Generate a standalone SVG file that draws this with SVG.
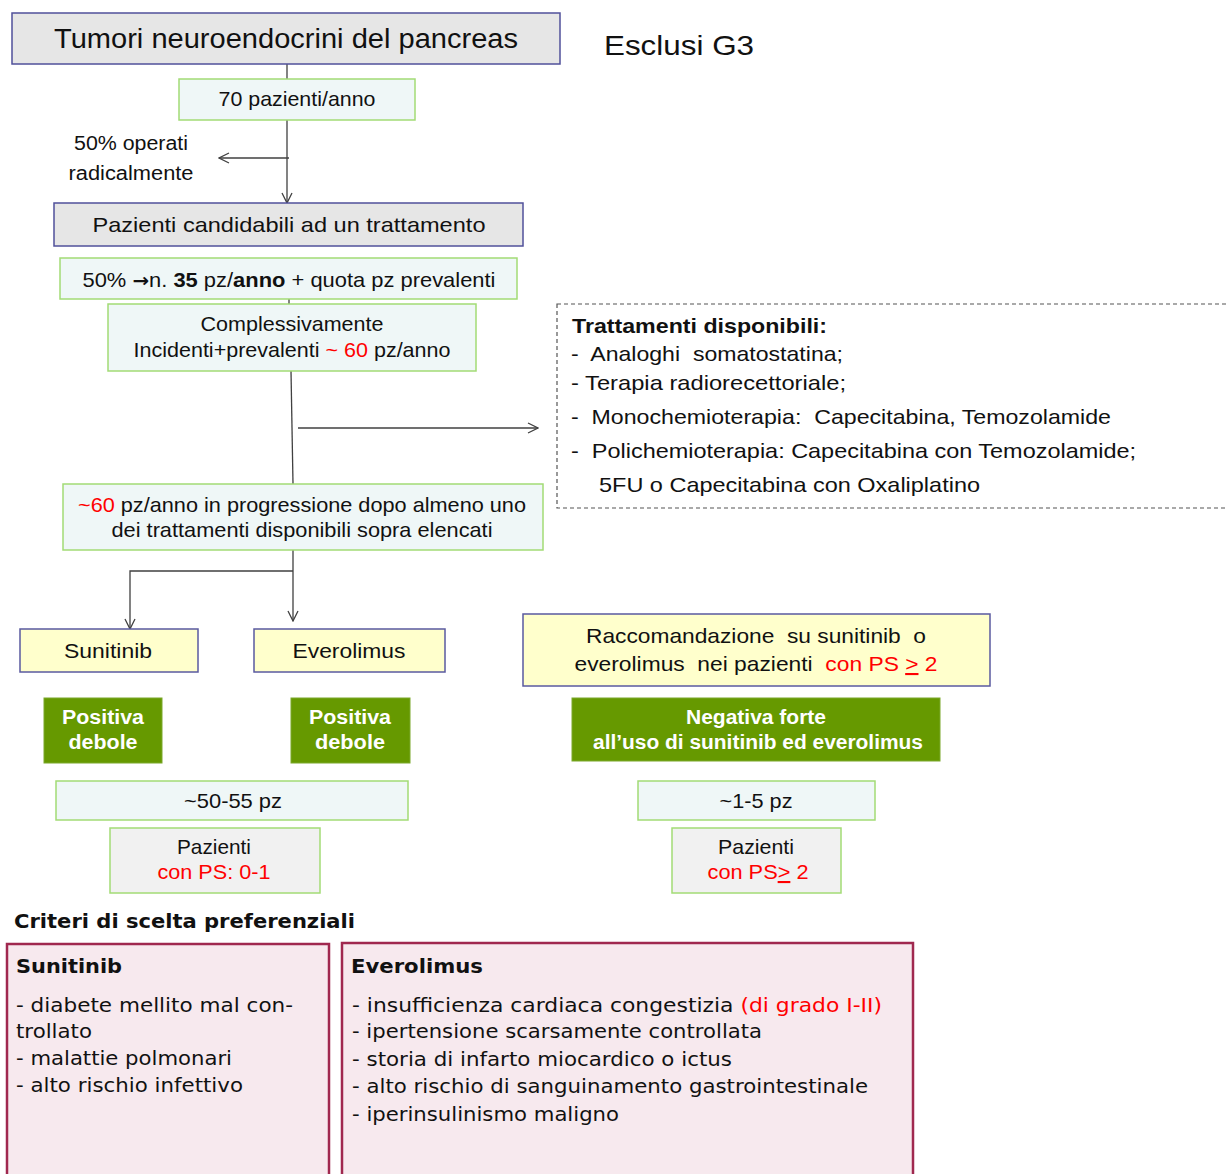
<svg xmlns="http://www.w3.org/2000/svg" width="1228" height="1174" viewBox="0 0 1228 1174">
<defs>
<marker id="arr" viewBox="0 0 12 12" refX="11" refY="6" markerWidth="12" markerHeight="12" markerUnits="userSpaceOnUse" orient="auto">
<path d="M1,1 L11,6 L1,11" fill="none" stroke="#404040" stroke-width="1.3"/>
</marker>
<style>
.gray{fill:#e6e6e6;stroke:#50509a;stroke-width:1.5}
.lg{fill:#eff7f7;stroke:#a3db75;stroke-width:1.5}
.yel{fill:#ffffcc;stroke:#5a5aa0;stroke-width:1.5}
.dg{fill:#669900;stroke:#7aa82a;stroke-width:1}
.pg{fill:#f1f1f1;stroke:#a3db75;stroke-width:1.5}
.pink{fill:#f7e9ee;stroke:#a0284f;stroke-width:2.5}
.dash{fill:#ffffff;stroke:#555;stroke-width:1.2;stroke-dasharray:4,3}
text{font-family:"Liberation Sans",Arial,sans-serif;fill:#111}
.c{text-anchor:middle}
.w{fill:#ffffff;font-weight:bold}
.v{font-family:"DejaVu Sans",Verdana,sans-serif}
.r{fill:#ff0000}
.ln{fill:none;stroke:#404040;stroke-width:1.3}
</style>
</defs>

<g id="connectors">
<line class="ln" x1="287" y1="64" x2="287" y2="79"/>
<line class="ln" x1="287" y1="120" x2="287" y2="203" marker-end="url(#arr)"/>
<line class="ln" x1="289" y1="158" x2="219" y2="158" marker-end="url(#arr)"/>
<line class="ln" x1="289" y1="299" x2="289" y2="304"/>
<line class="ln" x1="291" y1="371" x2="293" y2="484"/>
<line class="ln" x1="298" y1="428" x2="538" y2="428" marker-end="url(#arr)"/>
<line class="ln" x1="293" y1="550" x2="293" y2="621" marker-end="url(#arr)"/>
<polyline class="ln" points="293,571 130,571 130,629" marker-end="url(#arr)"/>
</g>

<g id="title">
<rect class="gray" x="12" y="13" width="548" height="51"/>
<text class="c" x="286" y="48" font-size="27" textLength="464" lengthAdjust="spacingAndGlyphs">Tumori neuroendocrini del pancreas</text>
</g>

<g id="esclusi">
<text x="604" y="55" font-size="28" textLength="150" lengthAdjust="spacingAndGlyphs">Esclusi G3</text>
</g>

<g id="n70">
<rect class="lg" x="179" y="79" width="236" height="41"/>
<text class="c" x="297" y="106" font-size="21" textLength="157" lengthAdjust="spacingAndGlyphs">70 pazienti/anno</text>
</g>

<g id="operati">
<text class="c" x="131" y="150" font-size="20" textLength="114" lengthAdjust="spacingAndGlyphs">50% operati</text>
<text class="c" x="131" y="180" font-size="20" textLength="125" lengthAdjust="spacingAndGlyphs">radicalmente</text>
</g>

<g id="candidabili">
<rect class="gray" x="54" y="203" width="469" height="43"/>
<text class="c" x="289" y="232" font-size="21" textLength="393" lengthAdjust="spacingAndGlyphs">Pazienti  candidabili  ad  un  trattamento</text>
</g>

<g id="n35">
<rect class="lg" x="60" y="258" width="457" height="41"/>
<text class="c" x="289" y="287" font-size="21" textLength="413" lengthAdjust="spacingAndGlyphs">50% <tspan font-family="DejaVu Sans, sans-serif" font-weight="bold" font-size="19">→</tspan>n. <tspan font-weight="bold">35</tspan> pz/<tspan font-weight="bold">anno</tspan> + quota pz prevalenti</text>
</g>

<g id="complessivamente">
<rect class="lg" x="108" y="304" width="368" height="67"/>
<text class="c" x="292" y="331" font-size="21" textLength="183" lengthAdjust="spacingAndGlyphs">Complessivamente</text>
<text class="c" x="292" y="357" font-size="21" textLength="317" lengthAdjust="spacingAndGlyphs">Incidenti+prevalenti <tspan class="r">~ 60</tspan> pz/anno</text>
</g>

<g id="trattamenti">
<rect class="dash" x="557" y="304" width="680" height="204"/>
<text x="572" y="333" font-size="21" font-weight="bold" textLength="255" lengthAdjust="spacingAndGlyphs">Trattamenti disponibili:</text>
<text x="571" y="361" font-size="21" textLength="272" lengthAdjust="spacingAndGlyphs" xml:space="preserve">-  Analoghi  somatostatina;</text>
<text x="571" y="390" font-size="21" textLength="275" lengthAdjust="spacingAndGlyphs">- Terapia radiorecettoriale;</text>
<text x="571" y="424" font-size="21" textLength="540" lengthAdjust="spacingAndGlyphs" xml:space="preserve">-  Monochemioterapia:  Capecitabina, Temozolamide</text>
<text x="571" y="458" font-size="21" textLength="565" lengthAdjust="spacingAndGlyphs" xml:space="preserve">-  Polichemioterapia: Capecitabina con Temozolamide;</text>
<text x="599" y="492" font-size="21" textLength="381" lengthAdjust="spacingAndGlyphs">5FU o Capecitabina con Oxaliplatino</text>
</g>

<g id="progressione">
<rect class="lg" x="63" y="484" width="480" height="66"/>
<text class="c" x="302" y="512" font-size="21" textLength="448" lengthAdjust="spacingAndGlyphs"><tspan class="r">~60</tspan> pz/anno  in  progressione dopo almeno  uno</text>
<text class="c" x="302" y="537" font-size="21" textLength="381" lengthAdjust="spacingAndGlyphs">dei  trattamenti disponibili  sopra elencati</text>
</g>

<g id="sunitinib">
<rect class="yel" x="20" y="629" width="178" height="43"/>
<text class="c" x="108" y="658" font-size="21" textLength="88" lengthAdjust="spacingAndGlyphs">Sunitinib</text>
</g>

<g id="everolimus">
<rect class="yel" x="254" y="629" width="191" height="43"/>
<text class="c" x="349" y="658" font-size="21" textLength="113" lengthAdjust="spacingAndGlyphs">Everolimus</text>
</g>

<g id="raccomandazione">
<rect class="yel" x="523" y="614" width="467" height="72"/>
<text class="c" x="756" y="643" font-size="21" textLength="340" lengthAdjust="spacingAndGlyphs" xml:space="preserve">Raccomandazione  su sunitinib  o</text>
<text class="c" x="756" y="671" font-size="21" textLength="363" lengthAdjust="spacingAndGlyphs" xml:space="preserve">everolimus  nei pazienti  <tspan class="r">con PS <tspan text-decoration="underline">&gt;</tspan> 2</tspan></text>
</g>

<g id="pos1">
<rect class="dg" x="44" y="698" width="118" height="65"/>
<text class="c w" x="103" y="724" font-size="20" textLength="82" lengthAdjust="spacingAndGlyphs">Positiva</text>
<text class="c w" x="103" y="749" font-size="20" textLength="69" lengthAdjust="spacingAndGlyphs">debole</text>
</g>

<g id="pos2">
<rect class="dg" x="291" y="698" width="119" height="65"/>
<text class="c w" x="350" y="724" font-size="20" textLength="82" lengthAdjust="spacingAndGlyphs">Positiva</text>
<text class="c w" x="350" y="749" font-size="20" textLength="70" lengthAdjust="spacingAndGlyphs">debole</text>
</g>

<g id="negativa">
<rect class="dg" x="572" y="698" width="368" height="63"/>
<text class="c w" x="756" y="724" font-size="20" textLength="140" lengthAdjust="spacingAndGlyphs">Negativa forte</text>
<text class="c w" x="758" y="749" font-size="20" textLength="330" lengthAdjust="spacingAndGlyphs">all’uso di sunitinib ed everolimus</text>
</g>

<g id="n5055">
<rect class="lg" x="56" y="781" width="352" height="39"/>
<text class="c" x="233" y="808" font-size="21" textLength="98" lengthAdjust="spacingAndGlyphs">~50-55 pz</text>
</g>

<g id="n15">
<rect class="lg" x="638" y="781" width="237" height="39"/>
<text class="c" x="756" y="808" font-size="21" textLength="73" lengthAdjust="spacingAndGlyphs">~1-5 pz</text>
</g>

<g id="ps01">
<rect class="pg" x="110" y="828" width="210" height="65"/>
<text class="c" x="214" y="854" font-size="21" textLength="74" lengthAdjust="spacingAndGlyphs">Pazienti</text>
<text class="c r" x="214" y="879" font-size="21" textLength="113" lengthAdjust="spacingAndGlyphs">con PS: 0-1</text>
</g>

<g id="ps2">
<rect class="pg" x="672" y="828" width="169" height="65"/>
<text class="c" x="756" y="854" font-size="21" textLength="76" lengthAdjust="spacingAndGlyphs">Pazienti</text>
<text class="c r" x="758" y="879" font-size="21" textLength="101" lengthAdjust="spacingAndGlyphs">con PS<tspan text-decoration="underline">&gt;</tspan> 2</text>
</g>

<g id="criteri">
<text class="v" x="14" y="928" font-size="19" font-weight="bold" textLength="341" lengthAdjust="spacingAndGlyphs">Criteri di scelta preferenziali</text>
</g>

<g id="crit-sunitinib">
<rect class="pink" x="7" y="944" width="322" height="240"/>
<text class="v" x="16" y="973" font-size="19" font-weight="bold" textLength="106" lengthAdjust="spacingAndGlyphs">Sunitinib</text>
<text class="v" x="16" y="1012" font-size="19" textLength="277" lengthAdjust="spacingAndGlyphs">- diabete mellito mal con-</text>
<text class="v" x="16" y="1038" font-size="19" textLength="76" lengthAdjust="spacingAndGlyphs">trollato</text>
<text class="v" x="16" y="1065" font-size="19" textLength="216" lengthAdjust="spacingAndGlyphs">- malattie polmonari</text>
<text class="v" x="16" y="1092" font-size="19" textLength="227" lengthAdjust="spacingAndGlyphs">- alto rischio infettivo</text>
</g>

<g id="crit-everolimus">
<rect class="pink" x="342" y="943" width="571" height="241"/>
<text class="v" x="351" y="973" font-size="19" font-weight="bold" textLength="132" lengthAdjust="spacingAndGlyphs">Everolimus</text>
<text class="v" x="352" y="1012" font-size="19" textLength="530" lengthAdjust="spacingAndGlyphs">- insufficienza cardiaca congestizia <tspan class="r">(di grado I-II)</tspan></text>
<text class="v" x="352" y="1038" font-size="19" textLength="410" lengthAdjust="spacingAndGlyphs">- ipertensione scarsamente controllata</text>
<text class="v" x="352" y="1066" font-size="19" textLength="380" lengthAdjust="spacingAndGlyphs">- storia di infarto miocardico o ictus</text>
<text class="v" x="352" y="1093" font-size="19" textLength="516" lengthAdjust="spacingAndGlyphs">- alto rischio di sanguinamento gastrointestinale</text>
<text class="v" x="352" y="1121" font-size="19" textLength="267" lengthAdjust="spacingAndGlyphs">- iperinsulinismo maligno</text>
</g>
</svg>
